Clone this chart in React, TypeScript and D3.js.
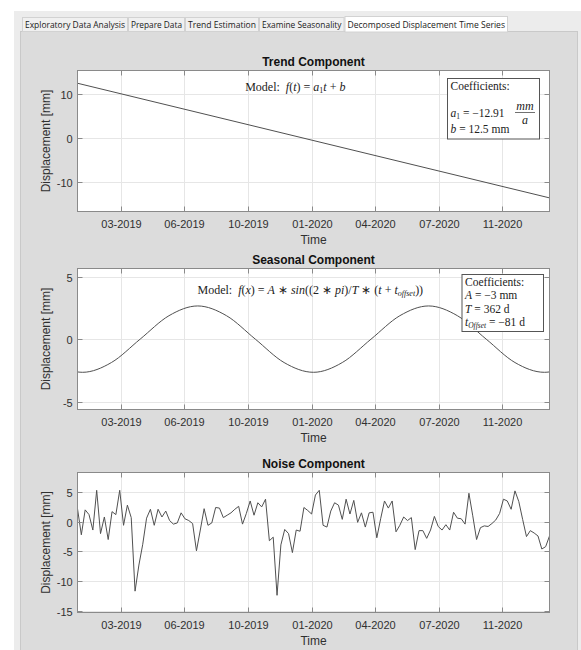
import * as d3 from 'd3';

// ---- data ----
const tabLabels = [
  'Exploratory Data Analysis',
  'Prepare Data',
  'Trend Estimation',
  'Examine Seasonality',
  'Decomposed Displacement Time Series',
];
const activeTab = 4;

const firstAcquisition = '2019-01-07';
const lastAcquisition = '2021-01-14';
const acquisitionStepDays = 6;

const tickDates = ['2019-03-16', '2019-06-23', '2019-10-01', '2020-01-08', '2020-04-16', '2020-07-25', '2020-11-01'];
const tickLabels = ['03-2019', '06-2019', '10-2019', '01-2020', '04-2020', '07-2020', '11-2020'];

const trendDates = [firstAcquisition, lastAcquisition];
const trendValues = [12.5, -13.6];

// seasonal curve, read at troughs, peaks, zero crossings and half-way points
const seasonalDates = [
  '2019-01-07', '2019-01-15', '2019-03-01', '2019-04-15', '2019-05-30', '2019-07-14',
  '2019-08-28', '2019-10-12', '2019-11-26', '2020-01-11', '2020-02-25', '2020-04-10',
  '2020-05-25', '2020-07-09', '2020-08-23', '2020-10-07', '2020-11-21', '2021-01-06', '2021-01-14',
];
const seasonalValues = [
  -2.62, -2.65, -1.87, 0, 1.87, 2.65,
  1.87, 0, -1.87, -2.65, -1.87, 0,
  1.87, 2.65, 1.87, 0, -1.87, -2.65, -2.62,
];

const noiseValues = [
  2.2, -2.2, 2.0, 1.2, -1.4, 5.3, -2.0, 0.8, -3.0, 1.7,
  1.2, 5.3, -0.6, 2.8, 0.7, -11.7, -7.3, -3.8, 0.6, 2.1,
  -0.6, 2.1, 0.8, 1.8, 0.2, -0.4, -0.2, 1.5, 0.5, 0.2,
  -0.3, -4.9, -1.4, 2.2, -0.6, -0.2, 2.4, 2.3, 0.7, 1.1,
  1.5, 2.1, 2.6, -0.4, 1.4, 3.5, 1.1, 3.2, 2.5, 3.8,
  -3.2, -2.6, -12.4, -3.9, -1.3, -2.0, -5.2, -1.4, -1.6, 2.4,
  1.9, 1.3, 4.5, 5.3, -0.6, -0.9, 1.8, 3.2, 2.8, 0.4,
  3.8, 1.3, 3.6, -0.1, 1.5, -0.9, 1.5, 1.6, -2.7, 0.5,
  3.5, 2.3, 3.5, -1.7, -0.6, 0.8, 0.2, 0.7, -4.7, -1.5,
  -1.5, -2.8, -1.4, 0.9, -0.8, -1.4, -0.5, -1.4, 1.6, 0.6,
  0.5, -0.4, 4.8, 1.0, -3.0, -1.0, -0.7, -0.8, -0.3, 0.3,
  1.4, 3.8, 3.5, 2.1, 5.2, 3.4, 0.4, -2.5, -1.5, -1.9,
  -2.4, -4.6, -4.2, -2.4,
];

// ---- layout ----
const W = 581;
const H = 650;
const PLOT_L = 77.5;
const PLOT_R = 549.5;
const TAB_EDGES = [22, 128, 185, 259, 344.5, 508];
const SANS = 'Liberation Sans, Arial, Helvetica, sans-serif';
const SERIF = 'Liberation Serif, Times New Roman, serif';
const AXIS_COLOR = '#8a8a8a';
const TEXT_COLOR = '#303030';
const LINE_COLOR = '#505050';

const parse = d3.utcParse('%Y-%m-%d');
const toDate = (s: string) => parse(s) as Date;

const x = d3.scaleUtc()
  .domain([toDate(firstAcquisition), toDate(lastAcquisition)])
  .range([PLOT_L, PLOT_R]);

type Pt = [Date, number];

interface PanelProps {
  title: string;
  top: number;
  bottom: number;
  yDomain: [number, number];
  yTicks: number[];
  points: Pt[];
  curve?: d3.CurveFactory;
  children?: React.ReactNode;
}

function Panel({ title, top, bottom, yDomain, yTicks, points, curve, children }: PanelProps) {
  const y = d3.scaleLinear().domain(yDomain).range([bottom, top]);
  const line = d3.line<Pt>()
    .x(d => x(d[0]))
    .y(d => y(d[1]))
    .curve(curve ?? d3.curveLinear);
  const xt = tickDates.map(toDate);
  const cx = (PLOT_L + PLOT_R) / 2;
  const tick = 5;

  return (
    <g>
      <rect x={PLOT_L} y={top} width={PLOT_R - PLOT_L} height={bottom - top} fill="#fff" />
      {/* grid */}
      {xt.map((d, i) => (
        <line key={'gx' + i} x1={Math.round(x(d)) + 0.5} x2={Math.round(x(d)) + 0.5} y1={top} y2={bottom} stroke="#e6e6e6" />
      ))}
      {yTicks.map((v, i) => (
        <line key={'gy' + i} x1={PLOT_L} x2={PLOT_R} y1={Math.round(y(v)) + 0.5} y2={Math.round(y(v)) + 0.5} stroke="#e6e6e6" />
      ))}
      {/* data */}
      <path d={line(points) ?? ''} fill="none" stroke={LINE_COLOR} strokeWidth={1} />
      {/* box + inward ticks */}
      <rect x={PLOT_L} y={top} width={PLOT_R - PLOT_L} height={bottom - top} fill="none" stroke={AXIS_COLOR} />
      {xt.map((d, i) => {
        const px = Math.round(x(d)) + 0.5;
        return (
          <g key={'tx' + i}>
            <line x1={px} x2={px} y1={bottom} y2={bottom - tick} stroke={AXIS_COLOR} />
            <line x1={px} x2={px} y1={top} y2={top + tick} stroke={AXIS_COLOR} />
            <text x={px} y={bottom + 16.5} textAnchor="middle" fontSize={11} fontFamily={SANS} fill={TEXT_COLOR}>
              {tickLabels[i]}
            </text>
          </g>
        );
      })}
      {yTicks.map((v, i) => {
        const py = Math.round(y(v)) + 0.5;
        return (
          <g key={'ty' + i}>
            <line x1={PLOT_L} x2={PLOT_L + tick} y1={py} y2={py} stroke={AXIS_COLOR} />
            <line x1={PLOT_R} x2={PLOT_R - tick} y1={py} y2={py} stroke={AXIS_COLOR} />
            <text x={72.7} y={py + 4} textAnchor="end" fontSize={11} fontFamily={SANS} fill={TEXT_COLOR}>
              {v}
            </text>
          </g>
        );
      })}
      <text x={cx} y={top - 4.5} textAnchor="middle" fontSize={12} fontWeight="bold" fontFamily={SANS} fill="#111">
        {title}
      </text>
      <text x={cx} y={bottom + 32.5} textAnchor="middle" fontSize={12} fontFamily={SANS} fill={TEXT_COLOR}>
        Time
      </text>
      <text
        transform={`translate(50,${(top + bottom) / 2}) rotate(-90)`}
        textAnchor="middle" fontSize={12} fontFamily={SANS} fill={TEXT_COLOR}
      >
        Displacement [mm]
      </text>
      {children}
    </g>
  );
}

export default function App() {
  const trendPts: Pt[] = trendDates.map((d, i) => [toDate(d), trendValues[i]]);
  const seasonalPts: Pt[] = seasonalDates.map((d, i) => [toDate(d), seasonalValues[i]]);
  const start = toDate(firstAcquisition);
  const noisePts: Pt[] = noiseValues.map((v, i) => [d3.utcDay.offset(start, i * acquisitionStepDays), v]);

  const it = { fontStyle: 'italic' as const };

  return (
    <svg width={W} height={H} style={{ position: 'fixed', left: 0, top: 0, display: 'block' }}>
      <rect width={W} height={H} fill="#fff" />
      {/* window + tab panel */}
      <rect x={14} y={11} width={W - 14} height={H - 11} fill="#ececec" />
      <rect x={20.5} y={31.5} width={557} height={H - 31} fill="#dcdcdc" stroke="#c9c9c9" />
      {tabLabels.map((t, i) => {
        const x0 = TAB_EDGES[i];
        const x1 = TAB_EDGES[i + 1];
        const active = i === activeTab;
        return (
          <g key={t}>
            <rect x={x0 + 0.5} y={active ? 16.5 : 17.5} width={x1 - x0 - 1} height={active ? 15.5 : 14}
              fill={active ? '#fff' : '#f0f0f0'} stroke="#d2d2d2" />
            <text x={x0 + 3} y={27.5} fontSize={9} fontFamily="Open Sans, Noto Sans, sans-serif" fill="#1a1a1a"
              textLength={x1 - x0 - 6} lengthAdjust="spacingAndGlyphs">
              {t}
            </text>
          </g>
        );
      })}

      <Panel title="Trend Component" top={70.5} bottom={211.5} yDomain={[-16.7, 15.4]} yTicks={[-10, 0, 10]} points={trendPts}>
        <text x={295.3} y={90.5} textAnchor="middle" fontSize={12} fontFamily={SERIF} fill="#222">
          Model:{'\u2002'}<tspan {...it}>f</tspan>(<tspan {...it}>t</tspan>) = <tspan {...it}>a</tspan>
          <tspan fontSize={8} dy={2}>1</tspan><tspan {...it} dy={-2}>t</tspan> + <tspan {...it}>b</tspan>
        </text>
        <rect x={447.5} y={78.5} width={92} height={60.5} fill="#fff" stroke="#555" />
        <text x={450.5} y={89.5} fontSize={11.5} fontFamily={SERIF} fill="#222">Coefficients:</text>
        <text x={450.5} y={117} fontSize={11.5} fontFamily={SERIF} fill="#222">
          <tspan {...it}>a</tspan><tspan fontSize={7.5} dy={2}>1</tspan><tspan dy={-2}> = −12.91</tspan>
        </text>
        <text x={525} y={110} textAnchor="middle" fontSize={12} fontFamily={SERIF} fill="#222" {...it}>mm</text>
        <line x1={515} x2={535} y1={112.5} y2={112.5} stroke="#333" strokeWidth={0.7} />
        <text x={525} y={123.5} textAnchor="middle" fontSize={12} fontFamily={SERIF} fill="#222" {...it}>a</text>
        <text x={450.5} y={133} fontSize={11.5} fontFamily={SERIF} fill="#222">
          <tspan {...it}>b</tspan> = 12.5 mm
        </text>
      </Panel>

      <Panel title="Seasonal Component" top={268.5} bottom={409.5} yDomain={[-5.62, 5.64]} yTicks={[-5, 0, 5]}
        points={seasonalPts} curve={d3.curveMonotoneX}>
        <text x={310.3} y={294} textAnchor="middle" fontSize={12} fontFamily={SERIF} fill="#222">
          Model:{'\u2002'}<tspan {...it}>f</tspan>(<tspan {...it}>x</tspan>) = <tspan {...it}>A</tspan> ∗ <tspan {...it}>sin</tspan>((2 ∗ <tspan {...it}>pi</tspan>)/<tspan {...it}>T</tspan> ∗ (<tspan {...it}>t</tspan> + <tspan {...it}>t</tspan>
          <tspan fontSize={8} dy={2} {...it}>offset</tspan><tspan dy={-2}>))</tspan>
        </text>
        <rect x={462} y={274.5} width={81.5} height={57} fill="#fff" stroke="#555" />
        <text x={465} y={286} fontSize={11.5} fontFamily={SERIF} fill="#222">Coefficients:</text>
        <text x={465} y={298.5} fontSize={11.5} fontFamily={SERIF} fill="#222">
          <tspan {...it}>A</tspan> = −3 mm
        </text>
        <text x={465} y={312.5} fontSize={11.5} fontFamily={SERIF} fill="#222">
          <tspan {...it}>T</tspan> = 362 d
        </text>
        <text x={465} y={326} fontSize={11.5} fontFamily={SERIF} fill="#222">
          <tspan {...it}>t</tspan><tspan fontSize={7.5} dy={2} {...it}>Offset</tspan><tspan dy={-2}> = −81 d</tspan>
        </text>
      </Panel>

      <Panel title="Noise Component" top={472.5} bottom={612.5} yDomain={[-15.3, 8.3]} yTicks={[-15, -10, -5, 0, 5]}
        points={noisePts} />
    </svg>
  );
}
